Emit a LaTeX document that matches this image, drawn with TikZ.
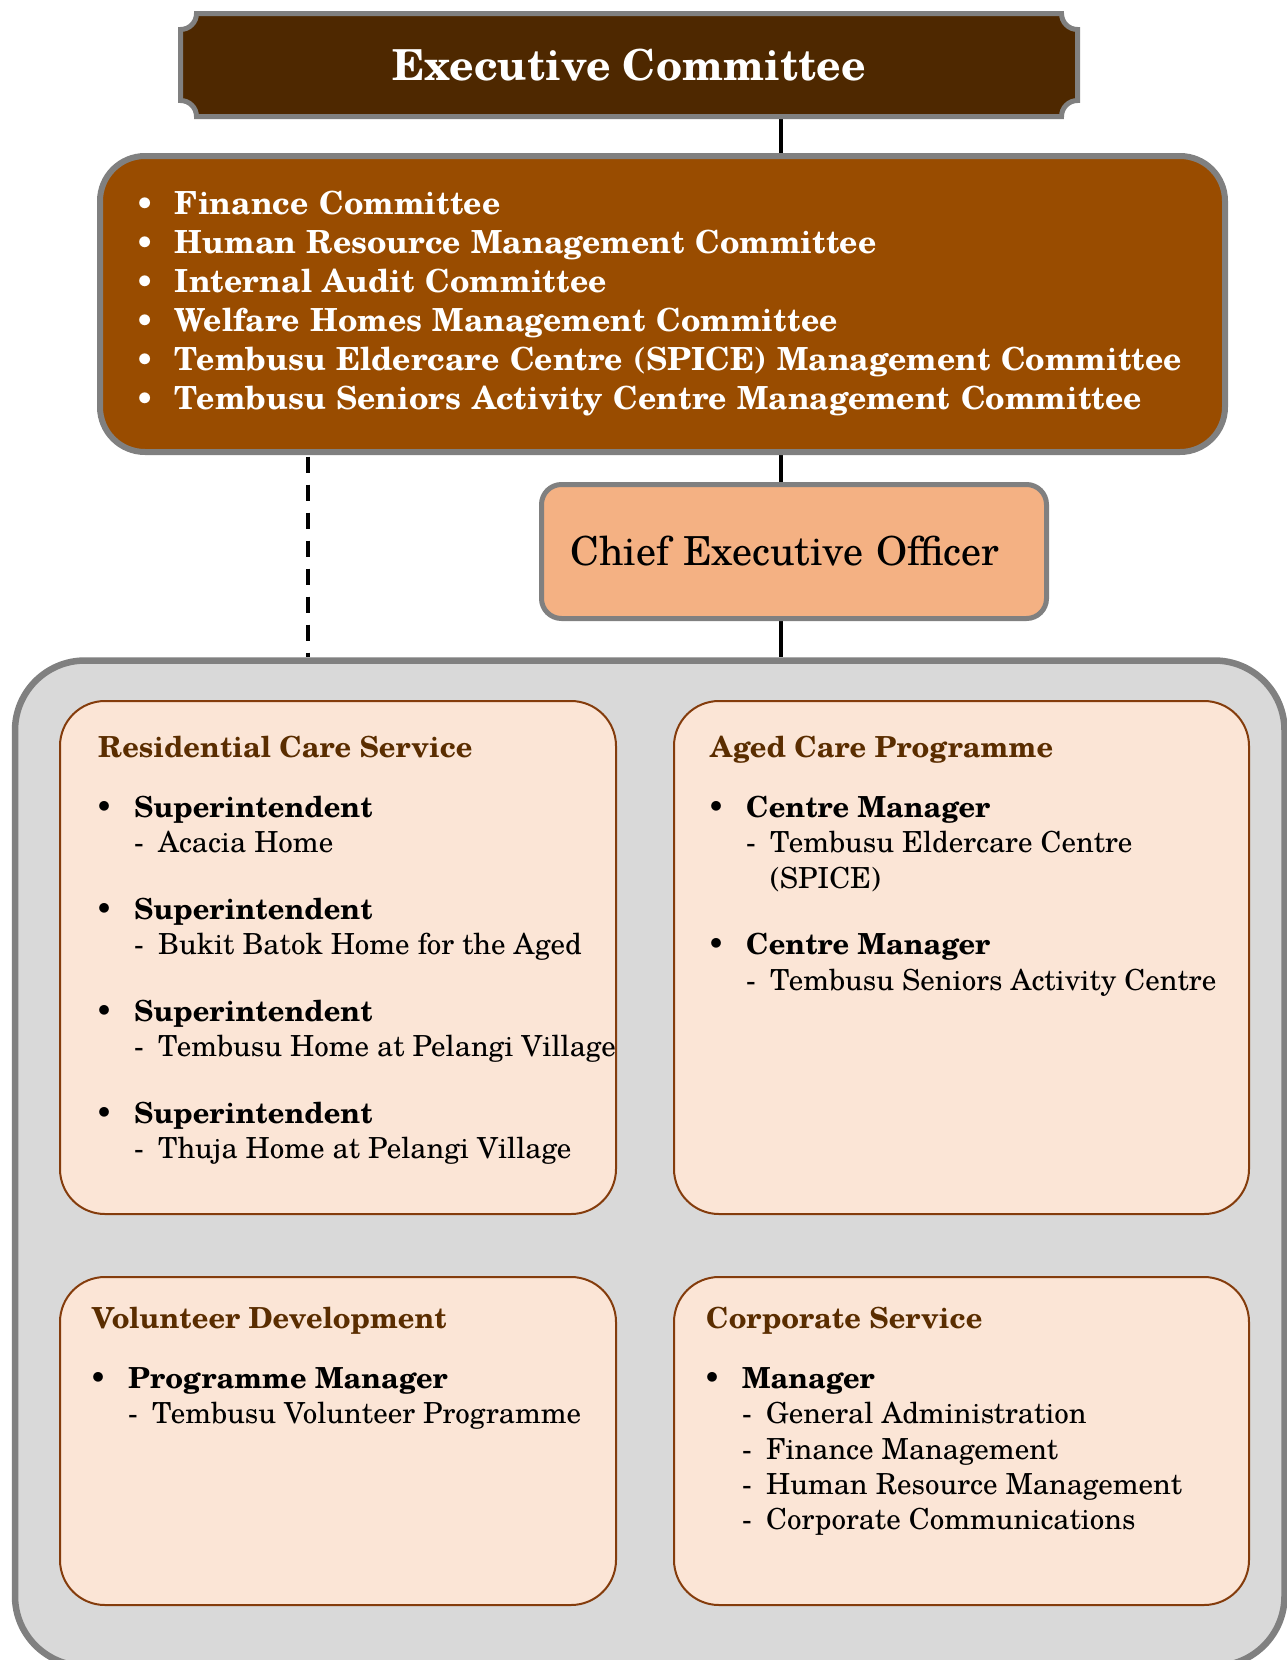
\documentclass[tikz,border=0pt]{standalone}
\usepackage{fontspec}
\setmainfont{texgyreschola}[Extension=.otf, UprightFont=*-regular, BoldFont=*-bold, ItalicFont=*-italic, BoldItalicFont=*-bolditalic]
\usetikzlibrary{backgrounds}

\definecolor{execbrown}{RGB}{78,40,0}
\definecolor{cmtbrown}{RGB}{153,76,0}
\definecolor{ceoorange}{RGB}{244,177,131}
\definecolor{framegray}{RGB}{128,128,128}
\definecolor{groupgray}{RGB}{217,217,217}
\definecolor{unitfill}{RGB}{251,229,214}
\definecolor{unitedge}{RGB}{132,60,12}
\definecolor{titlebrown}{RGB}{90,45,0}

% list helpers
\newcommand\cmtline[1]{\makebox[20pt]{•}\hspace*{20pt}#1}
\newcommand\unittitle[1]{\rule{0pt}{22pt}{\color{titlebrown}\bfseries #1}}
\newcommand\bossline[1]{\makebox[12pt]{•}\hspace*{24pt}\textbf{#1}}
\newcommand\unitline[1]{\hspace*{36pt}\makebox[24pt][l]{-}#1}

\begin{document}
\begin{tikzpicture}[x=1pt,y=1pt,
  execshape/.style={draw=framegray, line width=5pt, fill=execbrown},
  exectext/.style={minimum width=897pt, minimum height=103pt, inner sep=0pt,
    text=white, font=\fontsize{42.7}{50}\selectfont\bfseries},
  cmtbox/.style={rectangle, rounded corners=45pt, draw=framegray, line width=6pt,
    fill=cmtbrown, minimum width=1125pt, minimum height=296pt, text width=1055pt,
    inner xsep=35pt, inner ysep=0pt, align=left, text=white,
    font=\fontsize{31.8}{39}\selectfont\bfseries},
  ceobox/.style={rectangle, rounded corners=20pt, draw=framegray, line width=5pt,
    fill=ceoorange, minimum width=505pt, minimum height=134pt, text width=447pt,
    inner xsep=29pt, inner ysep=0pt, align=left, font=\fontsize{40}{48}\selectfont},
  groupbox/.style={rectangle, rounded corners=70pt, draw=framegray, line width=6.5pt,
    fill=groupgray, minimum width=1269.5pt, minimum height=1005.5pt, inner sep=0pt},
  unitbox/.style={rectangle, rounded corners=45pt, draw=unitedge, line width=2pt,
    fill=unitfill, inner sep=0pt},
  unittext/.style={anchor=north west, inner sep=0pt, align=left,
    font=\fontsize{29}{35.3}\selectfont},
  link/.style={line width=3.5pt, draw=black},
  dashlink/.style={draw=black, line width=4pt, dash pattern=on 16pt off 12pt, dash phase=26.3pt}
]
\useasboundingbox (0,0) rectangle (1287,-1660);

% Executive Committee plaque with concave corners
\draw[execshape] (196.5,-13.5) -- (1061.5,-13.5)
  arc[start angle=180, end angle=270, radius=16] -- (1077.5,-100.5)
  arc[start angle=90, end angle=180, radius=16] -- (196.5,-116.5)
  arc[start angle=0, end angle=90, radius=16] -- (180.5,-29.5)
  arc[start angle=270, end angle=360, radius=16] -- cycle;
\node[exectext] (exec) at (629,-65) {Executive Committee};

% Board committees
\node[cmtbox] (cmt) at (662.5,-304) {%
  \cmtline{Finance Committee}\\
  \cmtline{Human Resource Management Committee}\\
  \cmtline{Internal Audit Committee}\\
  \cmtline{Welfare Homes Management Committee}\\
  \cmtline{Tembusu Eldercare Centre (SPICE) Management Committee}\\
  \cmtline{Tembusu Seniors Activity Centre Management Committee}};

% Chief Executive Officer
\node[ceobox] (ceo) at (794,-551.5) {Chief Executive Officer};

% Service group container (runs past the right and lower edges of the page)
\node[groupbox] (grp) at (649.75,-1163.25) {};

% Service units
\node[unitbox, minimum width=556pt, minimum height=513pt] (res) at (338,-957.5) {};
\node[unitbox, minimum width=575pt, minimum height=513pt] (aged) at (961.5,-957.5) {};
\node[unitbox, minimum width=556pt, minimum height=328pt] (vol) at (338,-1441) {};
\node[unitbox, minimum width=575pt, minimum height=328pt] (corp) at (961.5,-1441) {};

\node[unittext] (res-list) at (98,-735) {%
  \unittitle{Residential Care Service}\\[25pt]
  \bossline{Superintendent}\\
  \unitline{Acacia Home}\\[31.4pt]
  \bossline{Superintendent}\\
  \unitline{Bukit Batok Home for the Aged}\\[31.4pt]
  \bossline{Superintendent}\\
  \unitline{Tembusu Home at Pelangi Village}\\[31.4pt]
  \bossline{Superintendent}\\
  \unitline{Thuja Home at Pelangi Village}};

\node[unittext] (aged-list) at (710,-735) {%
  \unittitle{Aged Care Programme}\\[25pt]
  \bossline{Centre Manager}\\
  \unitline{Tembusu Eldercare Centre}\\
  \hspace*{60pt}(SPICE)\\[31.4pt]
  \bossline{Centre Manager}\\
  \unitline{Tembusu Seniors Activity Centre}};

\node[unittext] (vol-list) at (92,-1306) {%
  \unittitle{Volunteer Development}\\[25pt]
  \bossline{Programme Manager}\\
  \unitline{Tembusu Volunteer Programme}};

\node[unittext] (corp-list) at (706,-1306) {%
  \unittitle{Corporate Service}\\[25pt]
  \bossline{Manager}\\
  \unitline{General Administration}\\
  \unitline{Finance Management}\\
  \unitline{Human Resource Management}\\
  \unitline{Corporate Communications}};

% Reporting lines
\coordinate (spine) at (781,0);
\coordinate (advisory) at (308,0);
\begin{pgfonlayer}{background}
  \draw[link] (exec.south -| spine) -- (cmt.north -| spine);
  \draw[link] (cmt.south -| spine) -- (ceo.north -| spine);
  \draw[link] (ceo.south -| spine) -- (grp.north -| spine);
  \draw[dashlink] (cmt.south -| advisory) -- (grp.north -| advisory);
\end{pgfonlayer}
\end{tikzpicture}
\end{document}
